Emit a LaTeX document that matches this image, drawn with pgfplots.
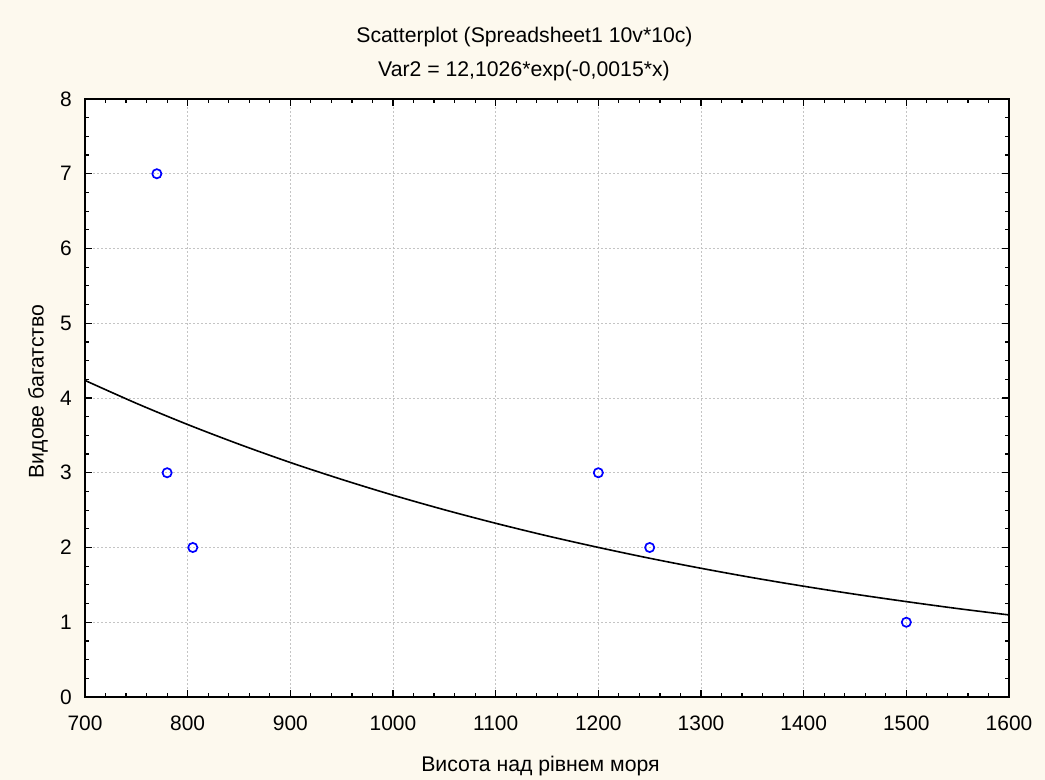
\documentclass[border=0pt]{standalone}
\usepackage{pgfplots}
\pgfplotsset{compat=1.18}
\usepackage{fontspec}
\setmainfont{Liberation Sans}
\definecolor{bgcream}{HTML}{FDF9EE}
\definecolor{gridgray}{HTML}{C4C4C4}
\begin{document}
\begin{tikzpicture}[x=1bp,y=1bp]
\fill[bgcream] (0,0) rectangle (1045,780);
\begin{axis}[
  at={(85bp,83bp)}, anchor=south west,
  scale only axis, width=924bp, height=598bp,
  xmin=700, xmax=1600, ymin=0, ymax=8,
  xtick={700,800,...,1600}, ytick={0,1,...,8},
  minor x tick num=4, minor y tick num=3,
  tick align=inside, major tick length=7bp, minor tick length=4bp,
  tick style={black, line width=1.2bp},
  axis line style={line width=1.6bp},
  axis background/.style={fill=white},
  grid=major,
  major grid style={gridgray, dash pattern=on 2bp off 2bp, line width=0.6bp},
  /pgf/number format/assume math mode=true,
  /pgf/number format/1000 sep={},
  ticklabel style={font=\fontsize{21}{23}\selectfont, inner sep=0pt},
  xticklabel style={anchor=base, yshift=-34bp},
  yticklabel style={anchor=east, xshift=-13bp},
  clip=true,
]
\addplot[smooth, black, line width=1.6bp] coordinates {
(700,4.235) (750,3.929) (800,3.645) (850,3.382) (900,3.137) (950,2.911)
(1000,2.700) (1050,2.505) (1100,2.324) (1150,2.156) (1200,2.001) (1250,1.856)
(1300,1.722) (1350,1.597) (1400,1.482) (1450,1.375) (1500,1.276) (1550,1.183)
(1600,1.098)};
\addplot[only marks, mark=o, mark size=4.6bp, mark options={blue, line width=1.7bp}] coordinates {
(770,7) (780,3) (805,2) (1200,3) (1250,2) (1500,1)};
\end{axis}
\node[font=\fontsize{21.3}{23}\selectfont, anchor=base] at (524.5,737) {Scatterplot (Spreadsheet1 10v*10c)};
\node[font=\fontsize{21.3}{23}\selectfont, anchor=base] at (524,703) {Var2 = 12,1026*exp(-0,0015*x)};
\node[font=\fontsize{21.3}{23}\selectfont, anchor=base] at (540.5,8) {Висота над рівнем моря};
\node[font=\fontsize{21.3}{23}\selectfont, rotate=90] at (38,388.5) {Видове багатство};
\end{tikzpicture}
\end{document}
